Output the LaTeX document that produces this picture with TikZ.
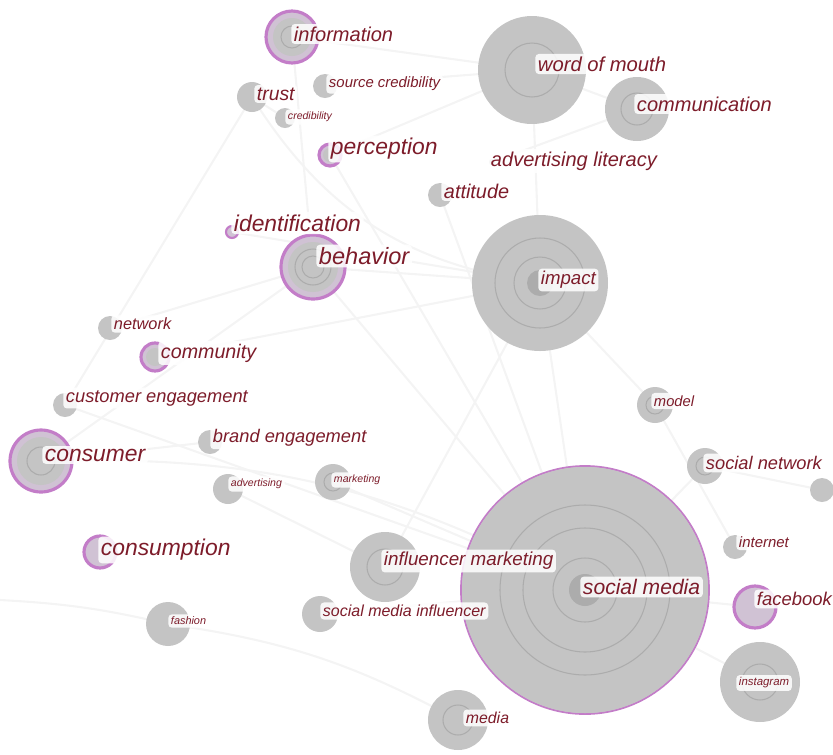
\documentclass[tikz,border=0pt]{standalone}
\usepackage{fontspec}
\setmainfont{Liberation Sans}
\usepackage{tikz}
\definecolor{kwred}{RGB}{125,28,42}
\definecolor{ring}{RGB}{195,125,200}
\definecolor{lav}{RGB}{208,194,212}
\definecolor{disk}{RGB}{196,196,196}
\definecolor{disk2}{RGB}{172,172,172}
\tikzset{
  link/.style={draw=gray!9, line width=1.2pt},
  kw/.style={anchor=west, fill=white, fill opacity=.85, text opacity=1, text=kwred,
    inner sep=1.5pt, rounded corners=2pt, font=\itshape\fontsize{#1}{#1}\selectfont},
  disk/.style={fill=disk},
  tree/.style={draw=disk2, line width=.6pt},
  hub/.style={fill=lav, draw=ring, line width=1.8pt}
}

\begin{document}
\begin{tikzpicture}[x=0.02cm,y=0.02cm,yscale=-1]
\useasboundingbox (0,0) rectangle (833,755);

% keyword positions
\coordinate (info) at (292,37);
\coordinate (trust) at (252,97);
\coordinate (srccred) at (325,86);
\coordinate (cred) at (285,118);
\coordinate (percep) at (330,155);
\coordinate (wom) at (532,70);
\coordinate (comm) at (637,109);
\coordinate (advlit) at (492,162);
\coordinate (att) at (440,195);
\coordinate (ident) at (232,232);
\coordinate (behav) at (313,267);
\coordinate (impact) at (540,283);
\coordinate (netw) at (110,328);
\coordinate (commun) at (155,357);
\coordinate (custeng) at (65,405);
\coordinate (consumer) at (41,461);
\coordinate (brandeng) at (210,442);
\coordinate (advert) at (228,489);
\coordinate (mkt) at (333,482);
\coordinate (consumption) at (100,552);
\coordinate (fashion) at (168,624);
\coordinate (infmkt) at (385,567);
\coordinate (sm) at (585,590);
\coordinate (smi) at (320,614);
\coordinate (media) at (458,720);
\coordinate (model) at (655,405);
\coordinate (socnet) at (705,466);
\coordinate (misc) at (822,490);
\coordinate (internet) at (735,547);
\coordinate (facebook) at (755,607);
\coordinate (insta) at (760,682);
\coordinate (edge) at (0,600);

% co-occurrence links
\foreach \a/\b in {trust/custeng, info/wom, srccred/wom, percep/wom, behav/impact,
  behav/consumer, behav/sm, ident/impact, consumer/brandeng, commun/impact,
  netw/behav, att/sm, impact/sm, impact/model, model/internet, socnet/sm,
  socnet/misc, infmkt/impact, mkt/sm, advert/infmkt, smi/sm, insta/sm,
  facebook/sm, wom/impact, comm/wom, advlit/comm, cred/trust, custeng/sm,
  info/behav, percep/sm}
  \draw[link] (\a) -- (\b);
\draw[link] (trust) to[bend left=25] (impact);
\draw[link] (consumer) to[bend right=15] (sm);
\draw[link] (fashion) to[bend right=10] (media);
\draw[link] (edge) to[bend right=5] (fashion);

% keyword circles
\fill[disk] (wom) circle (54);
\draw[tree] (wom) circle (27);
\fill[disk] (comm) circle (32);
\draw[tree] (comm) circle (16);
\fill[disk] (impact) circle (68);
\draw[tree] (impact) circle (45);
\draw[tree] (impact) circle (26);
\fill[disk2] (impact) circle (13);
\draw[hub, line width=1pt] (sm) circle (124);
\fill[disk] (sm) circle (123);
\draw[tree] (sm) circle (85);
\draw[tree] (sm) circle (62);
\draw[tree] (sm) circle (32);
\fill[disk2] (sm) circle (16);

\draw[hub] (info) circle (26);
\fill[disk] (info) circle (19);
\draw[tree] (info) circle (11);
\draw[hub] (behav) circle (32);
\fill[disk] (behav) circle (25);
\draw[tree] (behav) circle (18);
\draw[tree] (behav) circle (11);
\draw[hub] (consumer) circle (31);
\fill[disk] (consumer) circle (24);
\draw[tree] (consumer) circle (14);
\draw[hub] (commun) circle (14);
\fill[disk] (commun) circle (9);
\draw[hub] (consumption) circle (16);
\fill[lav] (consumption) circle (11);
\draw[hub] (percep) circle (11);
\fill[disk] (percep) circle (7);
\draw[hub, line width=1.2pt] (ident) circle (6);
\draw[hub] (facebook) circle (21);
\fill[lav] (facebook) circle (15);

\fill[disk] (trust) circle (15);
\fill[disk] (srccred) circle (12);
\fill[disk] (cred) circle (10);
\fill[disk] (advlit) circle (3);
\fill[disk] (att) circle (12);
\fill[disk] (netw) circle (12);
\fill[disk] (custeng) circle (12);
\fill[disk] (brandeng) circle (12);
\fill[disk] (advert) circle (15);
\fill[disk] (mkt) circle (18);
\draw[tree] (mkt) circle (9);
\fill[disk] (fashion) circle (22);
\fill[disk] (infmkt) circle (35);
\draw[tree] (infmkt) circle (18);
\fill[disk] (smi) circle (18);
\fill[disk] (media) circle (30);
\draw[tree] (media) circle (15);
\fill[disk] (model) circle (18);
\draw[tree] (model) circle (9);
\fill[disk] (socnet) circle (18);
\draw[tree] (socnet) circle (9);
\fill[disk] (misc) circle (12);
\fill[disk] (internet) circle (12);
\fill[disk] (insta) circle (40);
\draw[tree] (insta) circle (18);

% labels
\node[kw=11.4] (info-l) at (291,34) {information};
\node[kw=11] (trust-l) at (254,94) {trust};
\node[kw=8.5] (srccred-l) at (326,84) {source credibility};
\node[kw=6] (cred-l) at (285,117) {credibility};
\node[kw=13] (percep-l) at (328,149) {perception};
\node[kw=11.5] (wom-l) at (535,64) {word of mouth};
\node[kw=11.4] (comm-l) at (634,104) {communication};
\node[kw=11.4] (advlit-l) at (488,161) {advertising literacy};
\node[kw=11.3] (att-l) at (441,191) {attitude};
\node[kw=13] (ident-l) at (231,223) {identification};
\node[kw=13.4] (behav-l) at (316,256) {behavior};
\node[kw=10.6] (impact-l) at (538,280) {impact};
\node[kw=9.3] (netw-l) at (111,324) {network};
\node[kw=11.2] (commun-l) at (158,353) {community};
\node[kw=10.4] (custeng-l) at (63,398) {customer engagement};
\node[kw=13] (consumer-l) at (42,455) {consumer};
\node[kw=10.4] (brandeng-l) at (210,438) {brand engagement};
\node[kw=6] (advert-l) at (228,484) {advertising};
\node[kw=6] (mkt-l) at (331,480) {marketing};
\node[kw=13] (consumption-l) at (98,550) {consumption};
\node[kw=6.2] (fashion-l) at (168,621) {fashion};
\node[kw=10.7] (infmkt-l) at (381,561) {influencer marketing};
\node[kw=12] (sm-l) at (580,587) {social media};
\node[kw=9.1] (smi-l) at (320,611) {social media influencer};
\node[kw=9] (media-l) at (463,718) {media};
\node[kw=8.4] (model-l) at (651,401) {model};
\node[kw=10.4] (socnet-l) at (703,463) {social network};
\node[kw=8.5] (internet-l) at (736,542) {internet};
\node[kw=10.5] (facebook-l) at (754,599) {facebook};
\node[kw=6.5] (insta-l) at (736,683) {instagram};
\end{tikzpicture}
\end{document}
